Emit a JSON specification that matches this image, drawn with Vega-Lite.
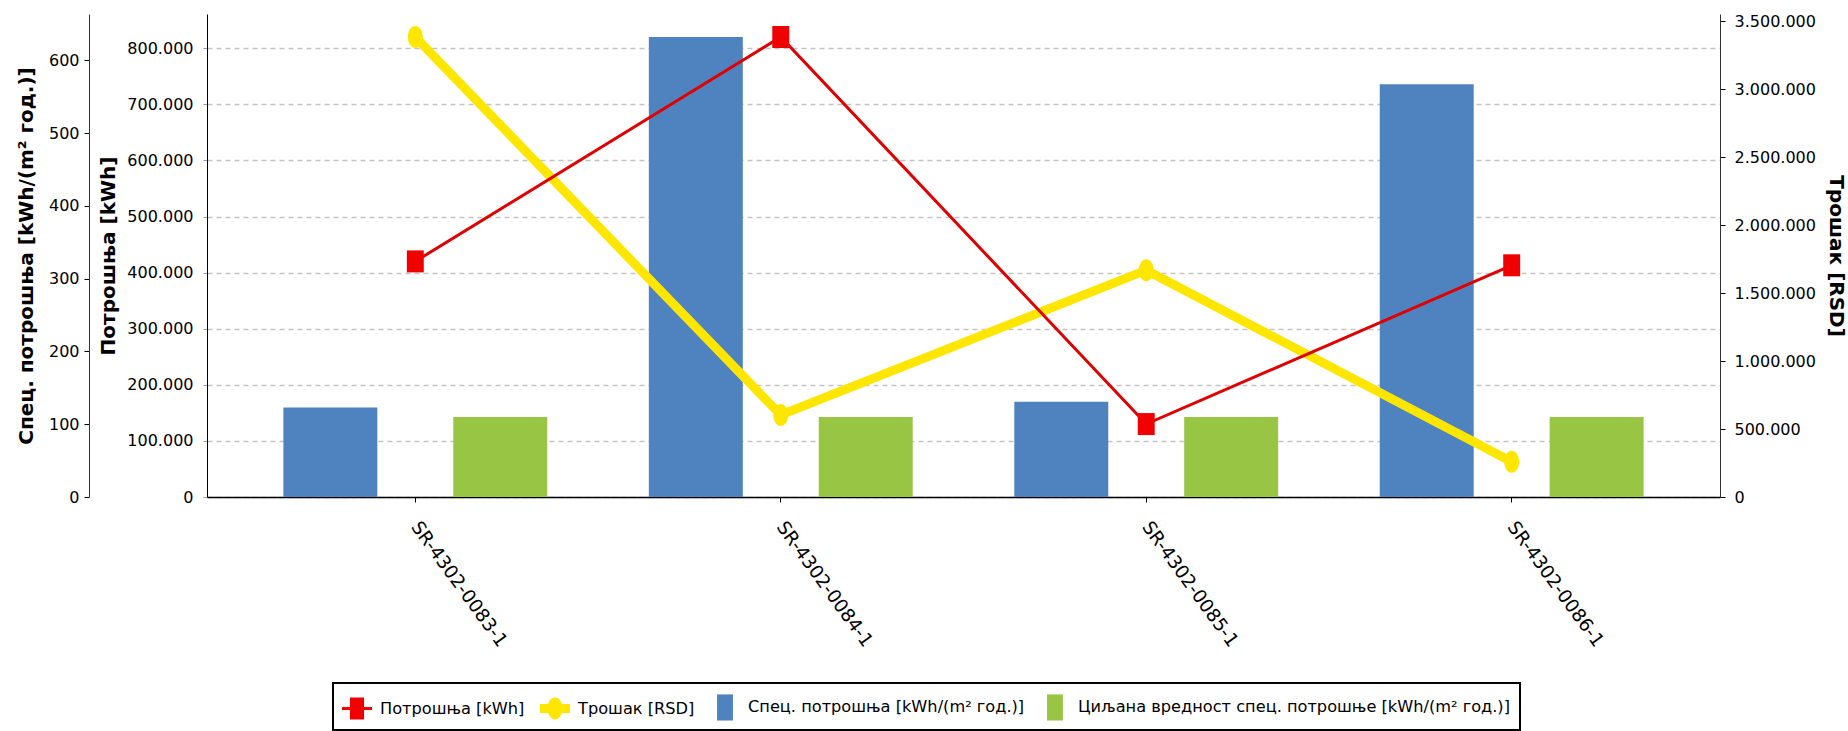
{
  "$schema": "https://vega.github.io/schema/vega-lite/v6.json",
  "width": 1513,
  "height": 483,
  "autosize": {"type": "none"},
  "padding": {"left": 207, "top": 14, "right": 128, "bottom": 234},
  "background": "white",
  "config": {
    "locale": {"number": {"decimal": ",", "thousands": ".", "grouping": [3], "currency": ["", ""]}},
    "view": {"stroke": null},
    "font": "DejaVu Sans",
    "axis": {
      "labelFont": "DejaVu Sans", "labelFontSize": 16, "labelColor": "#000",
      "titleFont": "DejaVu Sans", "titleFontSize": 20, "titleFontWeight": "bold", "titleColor": "#000",
      "domainColor": "#000", "tickColor": "#000", "grid": false
    },
    "legend": {"labelFont": "DejaVu Sans", "labelFontSize": 16.2, "labelColor": "#000"}
  },
  "data": {
    "values": [
      {"cat": "SR-4302-0083-1", "kind": "bar", "series": "Спец. потрошња [kWh/(m² год.)]", "value": 123},
      {"cat": "SR-4302-0084-1", "kind": "bar", "series": "Спец. потрошња [kWh/(m² год.)]", "value": 632},
      {"cat": "SR-4302-0085-1", "kind": "bar", "series": "Спец. потрошња [kWh/(m² год.)]", "value": 131},
      {"cat": "SR-4302-0086-1", "kind": "bar", "series": "Спец. потрошња [kWh/(m² год.)]", "value": 567},
      {"cat": "SR-4302-0083-1", "kind": "bar", "series": "Циљана вредност спец. потрошње [kWh/(m² год.)]", "value": 110},
      {"cat": "SR-4302-0084-1", "kind": "bar", "series": "Циљана вредност спец. потрошње [kWh/(m² год.)]", "value": 110},
      {"cat": "SR-4302-0085-1", "kind": "bar", "series": "Циљана вредност спец. потрошње [kWh/(m² год.)]", "value": 110},
      {"cat": "SR-4302-0086-1", "kind": "bar", "series": "Циљана вредност спец. потрошње [kWh/(m² год.)]", "value": 110},
      {"cat": "SR-4302-0083-1", "kind": "red", "series": "Потрошња [kWh]", "value": 420000},
      {"cat": "SR-4302-0084-1", "kind": "red", "series": "Потрошња [kWh]", "value": 820000},
      {"cat": "SR-4302-0085-1", "kind": "red", "series": "Потрошња [kWh]", "value": 130000},
      {"cat": "SR-4302-0086-1", "kind": "red", "series": "Потрошња [kWh]", "value": 413000},
      {"cat": "SR-4302-0083-1", "kind": "yellow", "series": "Трошак [RSD]", "value": 3384000},
      {"cat": "SR-4302-0084-1", "kind": "yellow", "series": "Трошак [RSD]", "value": 603000},
      {"cat": "SR-4302-0085-1", "kind": "yellow", "series": "Трошак [RSD]", "value": 1669000},
      {"cat": "SR-4302-0086-1", "kind": "yellow", "series": "Трошак [RSD]", "value": 260000}
    ]
  },
  "encoding": {
    "x": {
      "field": "cat", "type": "nominal", "sort": null,
      "scale": {"domain": ["SR-4302-0083-1", "SR-4302-0084-1", "SR-4302-0085-1", "SR-4302-0086-1"], "paddingInner": 0, "paddingOuter": 0.07},
      "axis": {"title": null, "labelAngle": 54, "labelAlign": "left", "labelBaseline": "middle", "labelFontSize": 18.5, "labelPadding": 21, "tickSize": 5, "domainWidth": 1.5, "labelLimit": 0}
    }
  },
  "layer": [
    {
      "transform": [{"filter": {"field": "kind", "equal": "bar"}}],
      "mark": {"type": "bar"},
      "encoding": {
        "xOffset": {
          "field": "series", "type": "nominal",
          "scale": {"domain": ["Спец. потрошња [kWh/(m² год.)]", "Циљана вредност спец. потрошње [kWh/(m² год.)]"], "paddingInner": 0.447, "paddingOuter": 0.299}
        },
        "y": {
          "field": "value", "type": "quantitative",
          "scale": {"domain": [0, 663.6], "nice": false},
          "axis": {"orient": "left", "offset": 118, "title": "Спец. потрошња [kWh/(m² год.)]", "values": [0, 100, 200, 300, 400, 500, 600], "tickSize": 5, "labelPadding": 5, "titlePadding": 12, "domainColor": "#333"}
        },
        "color": {
          "field": "series", "type": "nominal",
          "scale": {
            "domain": ["Потрошња [kWh]", "Трошак [RSD]", "Спец. потрошња [kWh/(m² год.)]", "Циљана вредност спец. потрошње [kWh/(m² год.)]"],
            "range": ["#f00000", "#ffe600", "#4f83bf", "#99c544"]
          },
          "legend": {
            "title": null, "orient": "none", "legendX": 126, "legendY": 669, "direction": "horizontal",
            "symbolSize": 900, "symbolType": "square", "strokeColor": "#000", "padding": 9,
            "columnPadding": 15, "labelOffset": 8, "labelLimit": 0, "symbolStrokeWidth": 0,
            "encode": {
              "legend": {"update": {"strokeWidth": {"value": 2}}},
              "symbols": {"update": {"shape": {"signal": "datum.value === 'Потрошња [kWh]' ? 'M-1,-0.1H1V0.1H-1Z M-0.47,-0.73H0.47V0.73H-0.47Z' : (datum.value === 'Трошак [RSD]' ? 'M-1,-0.3H1V0.3H-1Z M0,-0.73A0.5,0.73 0 1,1 0,0.73A0.5,0.73 0 1,1 0,-0.73Z' : 'M-0.53,-0.87H0.53V0.87H-0.53Z')"}}}
            }
          }
        }
      }
    },
    {
      "transform": [{"filter": {"field": "kind", "equal": "yellow"}}],
      "encoding": {
        "y": {
          "field": "value", "type": "quantitative",
          "scale": {"domain": [0, 3554000], "nice": false},
          "axis": {"orient": "right", "title": "Трошак [RSD]", "format": ",d", "values": [0, 500000, 1000000, 1500000, 2000000, 2500000, 3000000, 3500000], "tickSize": 5, "labelPadding": 9, "titlePadding": 10, "domainColor": "#333"}
        }
      },
      "layer": [
        {"mark": {"type": "line", "color": "#ffe600", "strokeWidth": 9}},
        {"mark": {"type": "point", "filled": true, "opacity": 1, "color": "#ffe600", "size": 484, "shape": "M0,-1A0.68,1 0 1,1 0,1A0.68,1 0 1,1 0,-1Z"}}
      ]
    },
    {
      "transform": [{"filter": {"field": "kind", "equal": "red"}}],
      "encoding": {
        "y": {
          "field": "value", "type": "quantitative",
          "scale": {"domain": [0, 861000], "nice": false},
          "axis": {"orient": "left", "title": "Потрошња [kWh]", "format": ",d", "values": [0, 100000, 200000, 300000, 400000, 500000, 600000, 700000, 800000], "grid": true, "gridDash": [5, 4], "gridColor": "#c4c4c4", "gridWidth": 1.5, "tickColor": "#999", "tickSize": 4, "labelPadding": 10, "titlePadding": 8}
        }
      },
      "layer": [
        {"mark": {"type": "line", "color": "#e00000", "strokeWidth": 3}},
        {"mark": {"type": "point", "filled": true, "opacity": 1, "color": "#f00000", "size": 484, "shape": "M-0.77,-1H0.77V1H-0.77Z"}}
      ]
    }
  ],
  "resolve": {"scale": {"y": "independent"}}
}
